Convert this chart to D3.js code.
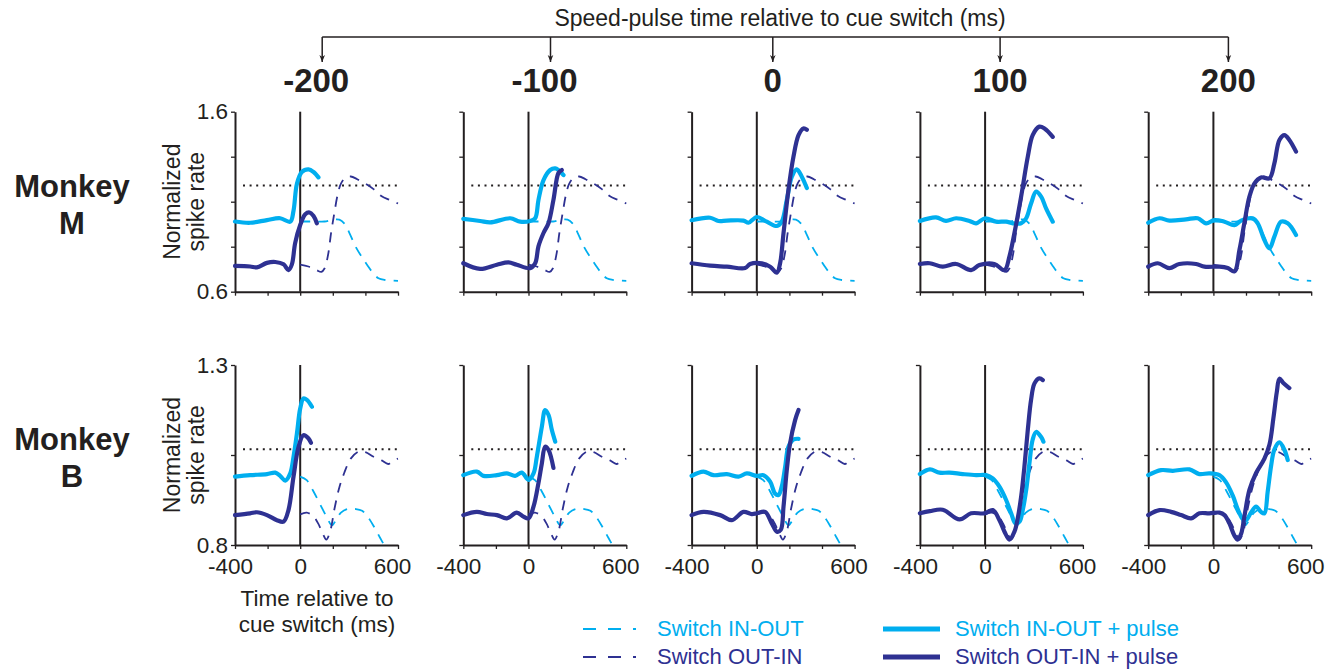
<!DOCTYPE html>
<html><head><meta charset="utf-8">
<script src="https://cdn.jsdelivr.net/npm/d3@7"></script>
<style>
html,body{margin:0;padding:0;background:#fff;}
svg{display:block;font-family:"Liberation Sans",Arial,Helvetica,sans-serif;}
</style></head>
<body>
<svg id="chart" width="1332" height="670"></svg>
<script>
// ---------- DATA ----------
const pulseTimes = [-200, -100, 0, 100, 200];
const monkeys = ["M", "B"];
const xTicks = [-400, -200, 0, 200, 400, 600];
const xTickLabels = [-400, 0, 600];
const yDomainM = [0.6, 1.6];
const yDomainB = [0.8, 1.3];
const yTicksM = [0.6, 0.85, 1.1, 1.35, 1.6];
const yTicksB = [0.8, 1.05, 1.3];
const yTickLabelsM = [0.6, 1.6];
const yTickLabelsB = [0.8, 1.3];
const refLevelM = 1.19;
const refLevelB = 1.066;
const legendLabels = ["Switch IN-OUT", "Switch OUT-IN", "Switch IN-OUT + pulse", "Switch OUT-IN + pulse"];

// control (no pulse), [ms, normalized rate]
const ctrlInOutM = [[0,0.99],[50,0.99],[100,0.99],[150,0.99],[200,1.0],[240,1.0],[270,0.98],[300,0.93],[340,0.85],[380,0.79],[410,0.75],[450,0.70],[480,0.675],[520,0.665],[600,0.66]];
const ctrlOutInM = [[0,0.75],[50,0.74],[100,0.72],[130,0.71],[150,0.73],[170,0.80],[190,0.93],[210,1.04],[230,1.14],[250,1.20],[280,1.235],[310,1.24],[350,1.225],[400,1.20],[450,1.17],[500,1.13],[550,1.11],[600,1.09]];
const ctrlInOutB = [[0,0.99],[40,0.98],[80,0.95],[120,0.915],[160,0.88],[195,0.855],[220,0.87],[250,0.89],[290,0.9],[340,0.9],[380,0.895],[420,0.875],[460,0.845],[490,0.82],[515,0.80]];
const ctrlOutInB = [[0,0.885],[40,0.89],[80,0.88],[110,0.86],[140,0.83],[160,0.815],[185,0.84],[210,0.9],[240,0.96],[270,1.0],[310,1.04],[360,1.06],[400,1.058],[450,1.045],[500,1.035],[540,1.025],[570,1.035],[600,1.04]];

// with speed pulse, one trace per pulse time
const pulseInOutM = [
  [[-400,0.99],[-307,0.983],[-204,0.998],[-123,1.008],[-61,0.989],[-41,1.05],[-20,1.2],[10,1.265],[51,1.28],[82,1.265],[112,1.235]],
  [[-400,1.005],[-297,0.993],[-235,0.985],[-112,1.008],[-51,0.989],[10,0.993],[41,1.008],[61,1.109],[92,1.22],[133,1.276],[164,1.285],[184,1.276],[215,1.248]],
  [[-400,0.997],[-286,1.011],[-235,0.993],[-184,0.995],[-82,0.995],[-51,0.983],[0,1.015],[61,0.989],[123,0.965],[153,0.989],[184,1.109],[215,1.239],[245,1.28],[276,1.239],[307,1.176]],
  [[-400,0.993],[-301,1.013],[-240,0.993],[-178,1.008],[-96,0.993],[-55,0.98],[0,1.008],[67,0.989],[129,0.989],[170,0.98],[221,0.98],[252,1.008],[282,1.09],[313,1.156],[344,1.128],[374,1.063],[415,0.989]],
  [[-400,0.983],[-331,1.008],[-270,0.995],[-168,1.002],[-96,1.008],[-45,0.98],[6,0.998],[68,0.989],[129,0.97],[170,0.995],[241,1.008],[272,0.98],[313,0.887],[344,0.841],[374,0.906],[415,0.989],[456,0.98],[507,0.915]]
];
const pulseOutInM = [
  [[-400,0.743],[-307,0.74],[-266,0.735],[-204,0.76],[-153,0.765],[-102,0.752],[-72,0.72],[-51,0.752],[-31,0.87],[0,0.97],[31,1.03],[57,1.04],[82,1.02],[102,0.98]],
  [[-400,0.758],[-297,0.727],[-194,0.75],[-123,0.763],[-72,0.75],[10,0.731],[41,0.758],[61,0.852],[92,0.926],[123,0.982],[153,1.11],[184,1.26],[204,1.276]],
  [[-400,0.758],[-286,0.745],[-184,0.739],[-72,0.731],[-41,0.754],[31,0.758],[82,0.739],[123,0.706],[143,0.758],[164,0.926],[194,1.165],[225,1.35],[256,1.47],[286,1.507],[307,1.5]],
  [[-400,0.754],[-340,0.758],[-260,0.739],[-178,0.754],[-86,0.72],[-35,0.748],[57,0.754],[119,0.72],[149,0.795],[180,0.926],[221,1.128],[262,1.35],[292,1.47],[333,1.517],[364,1.507],[415,1.46]],
  [[-400,0.739],[-341,0.758],[-270,0.731],[-209,0.754],[-106,0.754],[-55,0.739],[37,0.739],[88,0.731],[129,0.713],[160,0.833],[190,0.982],[221,1.128],[252,1.202],[292,1.235],[344,1.23],[374,1.313],[405,1.443],[436,1.47],[466,1.443],[507,1.378]]
];
const pulseInOutB = [
  [[-400,0.99],[-307,0.994],[-204,0.997],[-153,1.001],[-123,0.992],[-92,0.979],[-61,0.999],[-41,1.045],[-20,1.11],[0,1.179],[20,1.207],[41,1.203],[72,1.184]],
  [[-400,0.994],[-317,1.004],[-276,0.992],[-194,0.994],[-133,0.999],[-82,0.992],[-41,1.001],[0,0.981],[31,0.999],[51,1.045],[82,1.129],[102,1.175],[123,1.161],[143,1.12],[164,1.087]],
  [[-400,0.992],[-327,1.004],[-266,0.994],[-184,0.997],[-112,0.99],[-61,0.999],[0,0.992],[41,0.994],[82,0.976],[112,0.943],[133,0.939],[153,0.962],[174,1.017],[194,1.073],[225,1.093],[256,1.095]],
  [[-400,0.997],[-339,1.01],[-280,1.001],[-219,1.001],[-137,0.997],[-55,0.994],[6,0.994],[47,0.985],[88,0.962],[129,0.925],[160,0.888],[186,0.86],[211,0.865],[231,0.897],[252,0.953],[272,1.027],[292,1.093],[313,1.114],[344,1.1],[358,1.087]],
  [[-400,0.994],[-321,1.008],[-249,1.006],[-147,1.01],[-86,0.997],[-25,0.999],[37,0.994],[78,0.974],[119,0.937],[149,0.9],[180,0.872],[200,0.869],[231,0.89],[262,0.907],[292,0.892],[313,0.888],[333,0.948],[354,1.02],[374,1.065],[405,1.085],[436,1.064],[456,1.036]]
];
const pulseOutInB = [
  [[-400,0.883],[-307,0.888],[-266,0.891],[-204,0.883],[-143,0.869],[-102,0.865],[-72,0.897],[-41,0.99],[-10,1.073],[20,1.105],[51,1.096],[66,1.084]],
  [[-400,0.883],[-317,0.892],[-256,0.886],[-194,0.883],[-133,0.874],[-72,0.89],[-31,0.879],[0,0.874],[31,0.907],[61,0.972],[82,1.027],[102,1.073],[123,1.064],[153,1.014]],
  [[-400,0.883],[-327,0.892],[-225,0.883],[-153,0.869],[-82,0.892],[-31,0.886],[0,0.888],[51,0.892],[92,0.86],[123,0.837],[147,0.842],[164,0.907],[184,1.008],[204,1.082],[235,1.147],[256,1.175]],
  [[-400,0.888],[-339,0.894],[-260,0.898],[-157,0.871],[-86,0.888],[-4,0.888],[47,0.897],[88,0.869],[119,0.837],[149,0.815],[180,0.837],[200,0.874],[221,0.934],[241,1.017],[262,1.12],[282,1.203],[303,1.249],[333,1.263],[354,1.258]],
  [[-400,0.883],[-331,0.897],[-260,0.892],[-198,0.883],[-137,0.874],[-86,0.888],[-25,0.888],[37,0.89],[68,0.883],[98,0.86],[129,0.826],[149,0.815],[170,0.831],[190,0.879],[221,0.953],[262,1.0],[313,1.04],[344,1.079],[368,1.152],[389,1.225],[405,1.262],[429,1.25],[466,1.236]]
];

// ---------- STYLE / LAYOUT ----------
const CYAN = "#00aeef", NAVY = "#2e3192", INK = "#231f20";
const FONT = "'Liberation Sans', Arial, Helvetica, sans-serif";
const panelX0 = 235, panelStep = 228.3, panelW = 163, panelH = 180;
const rowTop = [111.7, 365];
const arrowOffset = [22, 22, 16, 15, 15];

const svg = d3.select("#chart");
const x = d3.scaleLinear().domain([-400, 600]);

const rows = [
  {name:"M", dom:yDomainM, ticks:yTicksM, labels:yTickLabelsM, ref:refLevelM, cIO:ctrlInOutM, cOI:ctrlOutInM, pIO:pulseInOutM, pOI:pulseOutInM},
  {name:"B", dom:yDomainB, ticks:yTicksB, labels:yTickLabelsB, ref:refLevelB, cIO:ctrlInOutB, cOI:ctrlOutInB, pIO:pulseInOutB, pOI:pulseOutInB}
];

rows.forEach((r, ri) => {
  const top = rowTop[ri];
  const y = d3.scaleLinear().domain(r.dom).range([top + panelH, top]);
  pulseTimes.forEach((pt, ci) => {
    const left = panelX0 + ci * panelStep;
    const xs = x.copy().range([left, left + panelW]);
    const g = svg.append("g");
    const line = d3.line().x(d => xs(d[0])).y(d => y(d[1])).curve(d3.curveCatmullRom.alpha(0.5));

    // reference dotted line
    g.append("line").attr("x1", left + 8).attr("x2", xs(600)).attr("y1", y(r.ref)).attr("y2", y(r.ref))
      .attr("stroke", INK).attr("stroke-width", 2).attr("stroke-dasharray", "2,4.6");

    // axes
    const yAx = d3.axisLeft(y).tickValues(r.ticks).tickSize(4).tickSizeOuter(0).tickPadding(3)
      .tickFormat(v => (ci === 0 && r.labels.includes(v)) ? d3.format(".1f")(v) : "");
    const ya = g.append("g").attr("transform", `translate(${left},0)`).call(yAx);
    const xAx = d3.axisBottom(xs).tickValues(xTicks).tickSize(4).tickSizeOuter(0).tickPadding(9)
      .tickFormat(v => (ri === 1 && xTickLabels.includes(v)) ? String(v) : "");
    const xa = g.append("g").attr("transform", `translate(0,${top + panelH})`).call(xAx);
    [ya, xa].forEach(a => {
      a.select(".domain").attr("stroke", INK).attr("stroke-width", 2);
      a.selectAll(".tick line").attr("stroke", INK).attr("stroke-width", 1.3);
      a.selectAll("text").attr("fill", INK).style("font-family", FONT).style("font-size", "22.5px");
    });
    xa.selectAll(".tick text").attr("dx", v => v === -400 ? -5 : (v === 600 ? -6 : 0));

    // zero line
    g.append("line").attr("x1", xs(0)).attr("x2", xs(0)).attr("y1", top).attr("y2", top + panelH)
      .attr("stroke", INK).attr("stroke-width", 2);

    // control traces (dashed)
    g.append("path").datum(r.cIO).attr("d", line).attr("fill", "none").attr("stroke", CYAN)
      .attr("stroke-width", 1.8).attr("stroke-dasharray", "10,8");
    g.append("path").datum(r.cOI).attr("d", line).attr("fill", "none").attr("stroke", NAVY)
      .attr("stroke-width", 1.8).attr("stroke-dasharray", "10,8");
    // pulse traces (solid)
    g.append("path").datum(r.pIO[ci]).attr("d", line).attr("fill", "none").attr("stroke", CYAN)
      .attr("stroke-width", 4.2).attr("stroke-linecap", "round").attr("stroke-linejoin", "round");
    g.append("path").datum(r.pOI[ci]).attr("d", line).attr("fill", "none").attr("stroke", NAVY)
      .attr("stroke-width", 4.2).attr("stroke-linecap", "round").attr("stroke-linejoin", "round");
  });

  // y title
  const cy = top + panelH / 2;
  const yt = svg.append("text").attr("transform", `translate(180,${cy}) rotate(-90)`)
    .attr("text-anchor", "middle").style("font-family", FONT).style("font-size", "23px").attr("fill", INK);
  yt.append("tspan").attr("x", 0).attr("dy", 0).text("Normalized");
  yt.append("tspan").attr("x", 0).attr("dy", 24).text("spike rate");

  // monkey label
  const ml = svg.append("text").attr("text-anchor", "middle").style("font-family", FONT)
    .style("font-size", "31px").style("font-weight", "bold").attr("fill", INK);
  ml.append("tspan").attr("x", 72).attr("y", cy - 5).text("Monkey");
  ml.append("tspan").attr("x", 72).attr("y", cy + 32).text(r.name);
});

// x title
const xt = svg.append("text").attr("text-anchor", "middle").style("font-family", FONT).style("font-size", "22.5px").attr("fill", INK);
xt.append("tspan").attr("x", 317).attr("y", 606).text("Time relative to");
xt.append("tspan").attr("x", 317).attr("y", 632).text("cue switch (ms)");

// top bracket
const zeroX = pulseTimes.map((p, i) => panelX0 + i * panelStep + x.copy().range([0, panelW])(0));
const arrowX = zeroX.map((z, i) => z + arrowOffset[i]);
svg.append("defs").append("marker").attr("id", "arr").attr("viewBox", "0 0 10 10")
  .attr("refX", 10).attr("refY", 5).attr("markerWidth", 7).attr("markerHeight", 11).attr("orient", "auto")
  .attr("markerUnits", "userSpaceOnUse")
  .append("path").attr("d", "M0,1 L10,5 L0,9 L3,5 Z").attr("fill", INK);
svg.append("line").attr("x1", arrowX[0]).attr("x2", arrowX[4]).attr("y1", 37).attr("y2", 37)
  .attr("stroke", INK).attr("stroke-width", 1.5);
arrowX.forEach((ax, i) => {
  svg.append("line").attr("x1", ax).attr("x2", ax).attr("y1", 37).attr("y2", 62)
    .attr("stroke", INK).attr("stroke-width", 1.5).attr("marker-end", "url(#arr)");
  svg.append("text").attr("x", ax - (pulseTimes[i] < 0 ? 6 : 0)).attr("y", 92).attr("text-anchor", "middle")
    .style("font-family", FONT).style("font-size", "33px").style("font-weight", "bold").attr("fill", INK)
    .text(String(pulseTimes[i]));
});
svg.append("text").attr("x", 780).attr("y", 26).attr("text-anchor", "middle")
  .style("font-family", FONT).style("font-size", "23px").attr("fill", INK)
  .text("Speed-pulse time relative to cue switch (ms)");

// legend
const legItems = [
  {x:583, y:629, c:CYAN, dash:true,  t:legendLabels[0]},
  {x:583, y:657, c:NAVY, dash:true,  t:legendLabels[1]},
  {x:883, y:629, c:CYAN, dash:false, t:legendLabels[2]},
  {x:883, y:657, c:NAVY, dash:false, t:legendLabels[3]}
];
legItems.forEach(d => {
  svg.append("line").attr("x1", d.x).attr("x2", d.x + 57).attr("y1", d.y).attr("y2", d.y)
    .attr("stroke", d.c).attr("stroke-width", d.dash ? 1.8 : 5)
    .attr("stroke-dasharray", d.dash ? "13,12,13,12,3,40" : null);
  svg.append("text").attr("x", d.dash ? d.x + 74 : d.x + 72).attr("y", d.y + 7)
    .style("font-family", FONT).style("font-size", "22px").attr("fill", d.c).text(d.t);
});
</script>
</body></html>
